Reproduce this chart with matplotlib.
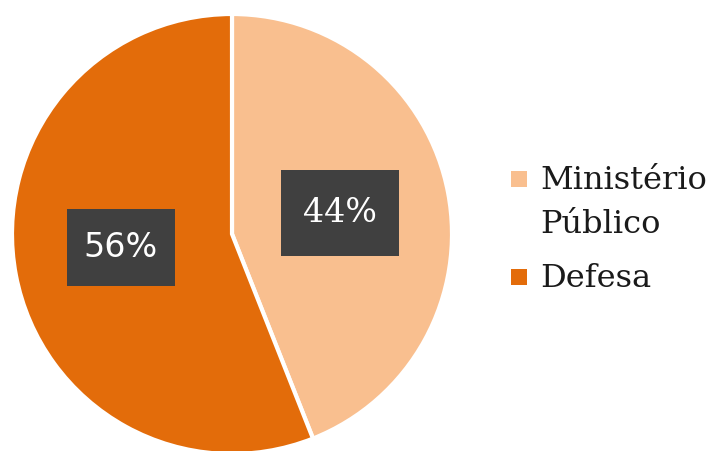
import matplotlib
matplotlib.use("Agg")
import matplotlib.pyplot as plt
from matplotlib.patches import Rectangle
from matplotlib.path import Path

labels = ['Ministério\nPúblico', 'Defesa']
values = [44, 56]
colors = ['#F9BF8F', '#E36C0A']

W, H = 716, 451
fig = plt.figure(figsize=(W / 100, H / 100), dpi=100)
# pie centred at (232, 234) px with radius 220 px
ax = fig.add_axes([12 / W, -3 / H, 440 / W, 440 / H])

wedges, texts, autotexts = ax.pie(
    values, colors=colors, startangle=90, counterclock=False,
    autopct='%1.0f%%', pctdistance=0.5,
    wedgeprops=dict(edgecolor='white', linewidth=3),
)
ax.set_xlim(-1, 1)
ax.set_ylim(-1, 1)
ax.set_aspect('equal')


def padded_box(px, py):
    # rectangle with separate horizontal / vertical padding (in pixels)
    def box(x0, y0, width, height, mutation_size):
        x0, y0 = x0 - px, y0 - py
        x1, y1 = x0 + width + 2 * px, y0 + height + 2 * py
        return Path([(x0, y0), (x1, y0), (x1, y1), (x0, y1), (x0, y0)], closed=True)
    return box


fonts = ['DejaVu Serif', 'DejaVu Sans']
pads = [(22, 27), (17, 22)]
nudges = [(0, 0), (-0.014, 0.033)]
for t, fam, (px, py), (dx, dy) in zip(autotexts, fonts, pads, nudges):
    t.set_color('white')
    t.set_fontsize(24)
    t.set_family(fam)
    t.set_position((t.get_position()[0] + dx, t.get_position()[1] + dy))
    t.set_bbox(dict(boxstyle=padded_box(px, py), fc='#404040', ec='none'))

# legend drawn by hand so the marker sits on the first line of each label
y_top = 165
for label, color in zip(labels, colors):
    fig.patches.append(Rectangle((511 / W, 1 - (y_top + 22) / H), 16 / W, 16 / H,
                                 transform=fig.transFigure, fc=color, ec='none'))
    fig.text(540 / W, 1 - y_top / H, label, va='top', ha='left',
             family='DejaVu Serif', fontsize=23, linespacing=1.55, color='#1a1a1a')
    y_top += 98

fig.savefig('out.png', dpi=100)
